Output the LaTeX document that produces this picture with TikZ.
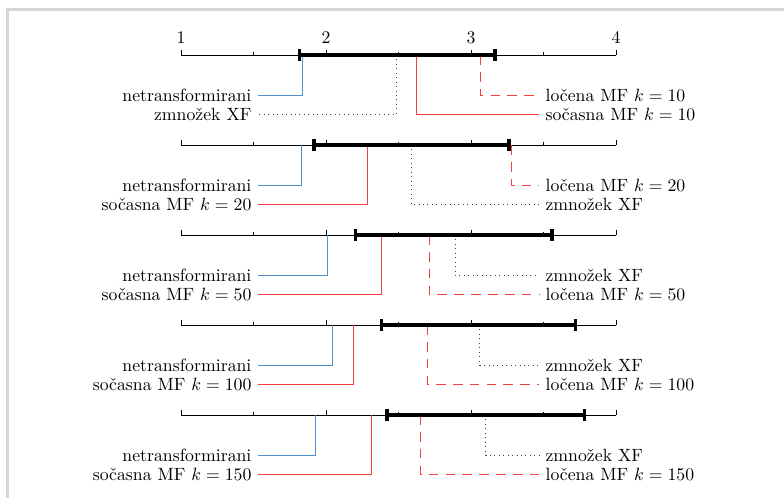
\documentclass[tikz,border=0pt]{standalone}
\usepackage{tikz}
\usetikzlibrary{arrows.meta, positioning, calc}

\definecolor{rawblue}{HTML}{4F8FCB}
\definecolor{mfred}{HTML}{F24040}
\definecolor{framegray}{HTML}{D6D6D6}

\begin{document}
\begin{tikzpicture}[
            x=2.871cm, y=1cm,
            axis/.style   ={line width=0.45pt, draw=black},
            cdbar/.style  ={line width=1.8pt, draw=black},
            lbl/.style    ={inner sep=3.5pt},
            lft/.style    ={lbl, anchor=east},
            rgt/.style    ={lbl, anchor=west},
            raw/.style    ={draw=rawblue, line width=0.5pt},
            joint/.style  ={draw=mfred, line width=0.5pt},
            split/.style  ={draw=mfred, line width=0.5pt, dash pattern=on 5.5pt off 4pt},
            prod/.style   ={draw=black!75, line width=0.5pt, dotted}
        ]

        \useasboundingbox (-0.2483,-9.842) rectangle (5.1586,0);
        \draw[framegray, line width=1.7pt] (-0.1966,-9.9) -- (-0.1966,-0.188) -- (5.2,-0.188);

        % one rank axis per k
        \foreach \y in {-1.089,-2.871,-4.653,-6.435,-8.217}{
            \draw[axis] (1,\y) -- (4,\y);
            \foreach \t in {1,2,3,4} \draw[axis] (\t,\y) -- ++(0,0.1);
            \foreach \t in {1.5,2.5,3.5} \draw[axis] (\t,\y) -- ++(0,0.06);
        }
        \foreach \t in {1,...,4} \node (t\t) at (\t,-0.752) {\t};

        % k = 10
        \coordinate (n1) at (1.837,-1.089);
        \coordinate (z1) at (2.487,-1.089);
        \coordinate (s1) at (2.621,-1.089);
        \coordinate (l1) at (3.062,-1.089);
        \node[lft] (Ln1) at (1.531,-1.881) {netransformirani};
        \node[lft] (Lz1) at (1.531,-2.257) {zmnožek XF};
        \node[rgt] (Ll1) at (3.469,-1.881) {ločena MF $k=10$};
        \node[rgt] (Ls1) at (3.469,-2.257) {sočasna MF $k=10$};
        \draw[raw]   (n1) |- (Ln1.east);
        \draw[prod]  (z1) |- (Lz1.east);
        \draw[split] (l1) |- (Ll1.west);
        \draw[joint] (s1) |- (Ls1.west);
        \draw[cdbar] (1.816,-1.089) -- (3.166,-1.089);
        \draw[cdbar] (1.816,-0.979) -- (1.816,-1.199) (3.166,-0.979) -- (3.166,-1.199);

        % k = 20
        \coordinate (n2) at (1.832,-2.871);
        \coordinate (s2) at (2.283,-2.871);
        \coordinate (z2) at (2.586,-2.871);
        \coordinate (l2) at (3.276,-2.871);
        \node[lft] (Ln2) at (1.531,-3.663) {netransformirani};
        \node[lft] (Ls2) at (1.531,-4.039) {sočasna MF $k=20$};
        \node[rgt] (Ll2) at (3.469,-3.663) {ločena MF $k=20$};
        \node[rgt] (Lz2) at (3.469,-4.039) {zmnožek XF};
        \draw[raw]   (n2) |- (Ln2.east);
        \draw[joint] (s2) |- (Ls2.east);
        \draw[split] (l2) |- (Ll2.west);
        \draw[prod]  (z2) |- (Lz2.west);
        \draw[cdbar] (1.917,-2.871) -- (3.262,-2.871);
        \draw[cdbar] (1.917,-2.761) -- (1.917,-2.981) (3.262,-2.761) -- (3.262,-2.981);

        % k = 50
        \coordinate (n3) at (2.010,-4.653);
        \coordinate (s3) at (2.380,-4.653);
        \coordinate (l3) at (2.710,-4.653);
        \coordinate (z3) at (2.890,-4.653);
        \node[lft] (Ln3) at (1.531,-5.445) {netransformirani};
        \node[lft] (Ls3) at (1.531,-5.821) {sočasna MF $k=50$};
        \node[rgt] (Lz3) at (3.469,-5.445) {zmnožek XF};
        \node[rgt] (Ll3) at (3.469,-5.821) {ločena MF $k=50$};
        \draw[raw]   (n3) |- (Ln3.east);
        \draw[joint] (s3) |- (Ls3.east);
        \draw[prod]  (z3) |- (Lz3.west);
        \draw[split] (l3) |- (Ll3.west);
        \draw[cdbar] (2.205,-4.653) -- (3.559,-4.653);
        \draw[cdbar] (2.205,-4.543) -- (2.205,-4.763) (3.559,-4.543) -- (3.559,-4.763);

        % k = 100
        \coordinate (n4) at (2.045,-6.435);
        \coordinate (s4) at (2.190,-6.435);
        \coordinate (l4) at (2.700,-6.435);
        \coordinate (z4) at (3.060,-6.435);
        \node[lft] (Ln4) at (1.531,-7.227) {netransformirani};
        \node[lft] (Ls4) at (1.531,-7.603) {sočasna MF $k=100$};
        \node[rgt] (Lz4) at (3.469,-7.227) {zmnožek XF};
        \node[rgt] (Ll4) at (3.469,-7.603) {ločena MF $k=100$};
        \draw[raw]   (n4) |- (Ln4.east);
        \draw[joint] (s4) |- (Ls4.east);
        \draw[prod]  (z4) |- (Lz4.west);
        \draw[split] (l4) |- (Ll4.west);
        \draw[cdbar] (2.380,-6.435) -- (3.720,-6.435);
        \draw[cdbar] (2.380,-6.325) -- (2.380,-6.545) (3.720,-6.325) -- (3.720,-6.545);

        % k = 150
        \coordinate (n5) at (1.930,-8.217);
        \coordinate (s5) at (2.310,-8.217);
        \coordinate (l5) at (2.650,-8.217);
        \coordinate (z5) at (3.100,-8.217);
        \node[lft] (Ln5) at (1.531,-9.009) {netransformirani};
        \node[lft] (Ls5) at (1.531,-9.385) {sočasna MF $k=150$};
        \node[rgt] (Lz5) at (3.469,-9.009) {zmnožek XF};
        \node[rgt] (Ll5) at (3.469,-9.385) {ločena MF $k=150$};
        \draw[raw]   (n5) |- (Ln5.east);
        \draw[joint] (s5) |- (Ls5.east);
        \draw[prod]  (z5) |- (Lz5.west);
        \draw[split] (l5) |- (Ll5.west);
        \draw[cdbar] (2.420,-8.217) -- (3.780,-8.217);
        \draw[cdbar] (2.420,-8.107) -- (2.420,-8.327) (3.780,-8.107) -- (3.780,-8.327);

    \end{tikzpicture}
\end{document}
